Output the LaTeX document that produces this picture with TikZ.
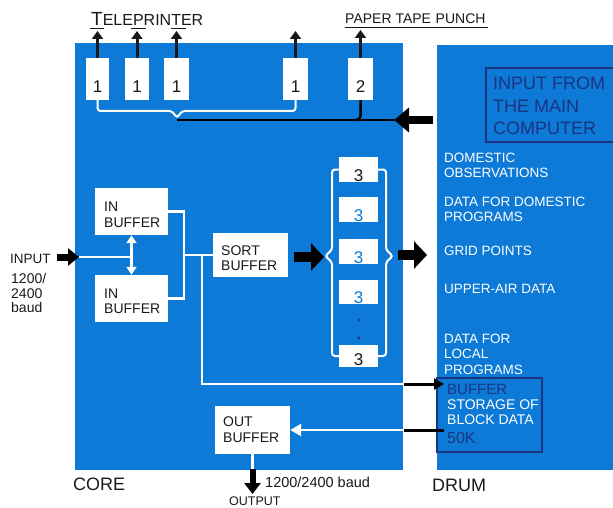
\documentclass[tikz,border=0pt]{standalone}
\usepackage{fontspec}
\setmainfont{Liberation Sans}
\usetikzlibrary{arrows.meta}
\definecolor{bl}{RGB}{12,122,214}
\definecolor{navy}{RGB}{28,52,128}
\definecolor{ink}{RGB}{25,25,25}
\begin{document}
\begin{tikzpicture}[x=1pt,y=-1pt,
  wbox/.style={fill=white,draw=none,inner sep=0pt},
  txt/.style={anchor=base west,inner sep=0pt,text=ink},
  wtxt/.style={anchor=base west,inner sep=0pt,text=white,font=\fontsize{13.5}{15}\selectfont},
  ntxt/.style={anchor=base west,inner sep=0pt,text=navy,font=\fontsize{16}{18}\selectfont},
  btxt/.style={anchor=base west,inner sep=0pt,text=ink,font=\fontsize{14}{16}\selectfont},
  num/.style={anchor=base,inner sep=0pt,font=\fontsize{17}{19}\selectfont},
  wline/.style={draw=white,line width=2.6pt},
  wthin/.style={draw=white,line width=2pt,rounded corners=3pt},
  upar/.style={draw=ink,line width=3pt,-{Triangle[length=8pt,width=11pt]}},
  bigar/.style={draw=black,line width=8pt,-{Triangle[length=15pt,width=24pt]}},
  midar/.style={draw=black,line width=10pt,-{Triangle[length=13pt,width=27pt]}},
  inar/.style={draw=black,line width=7pt,-{Triangle[length=11pt,width=17pt]}},
  outar/.style={draw=black,line width=6pt,-{Triangle[length=11pt,width=16pt]}},
  thinar/.style={draw=black,line width=3pt,-{Triangle[length=10pt,width=11pt]}},
  war/.style={draw=white,line width=2.6pt,-{Triangle[length=11pt,width=12pt]}},
  wdbl/.style={draw=white,line width=2.6pt,{Triangle[length=8pt,width=10pt]}-{Triangle[length=8pt,width=10pt]}}]
\useasboundingbox (0,0) rectangle (613,508);
% core and drum
\fill[bl] (75,43) rectangle (403,470);
\fill[bl] (437,45) rectangle (613,470);

% --- top row of boxes ---
\node[wbox,minimum width=23pt,minimum height=42pt] (b1) at (97.5,79) {};
\node[wbox,minimum width=24pt,minimum height=42pt] (b2) at (137,79) {};
\node[wbox,minimum width=25pt,minimum height=42pt] (b3) at (176.5,79) {};
\node[wbox,minimum width=25pt,minimum height=42pt] (b4) at (295.5,79) {};
\node[wbox,minimum width=25pt,minimum height=42pt] (b5) at (360.5,79) {};
\node[num,text=ink] (n1) at (97.5,93) {1};
\node[num,text=ink] (n2) at (137,93) {1};
\node[num,text=ink] (n3) at (176.5,93) {1};
\node[num,text=ink] (n4) at (295.5,93) {1};
\node[num,text=ink] (n5) at (360.5,93) {2};

\coordinate (t1) at (97.5,31);
\coordinate (t2) at (137,31);
\coordinate (t3) at (176.5,31);
\coordinate (t4) at (295.5,31);
\coordinate (t5) at (360.5,30);
\draw[upar] (b1.north) -- (t1);
\draw[upar] (b2.north) -- (t2);
\draw[upar] (b3.north) -- (t3);
\draw[upar] (b4.north) -- (t4);
\draw[upar] (b5.north) -- (t5);

\node[txt] (tp) at (91,26) {\fontsize{19}{20}\selectfont T\fontsize{16}{18}\selectfont ELEPRINTER};
\draw[ink,line width=1pt] (90,29) -- (104,29);
\draw[ink,line width=1pt] (131,29) -- (146,29);
\draw[ink,line width=1pt] (171,29) -- (186,29);
\node[txt,font=\fontsize{14}{16}\selectfont] (ptp) at (345,24) {PAPER TAPE\,\,PUNCH};
\draw[ink,line width=1pt] (345,28) -- (488,28);

% brace below teleprinter boxes
\coordinate (bt) at (177,118);
\draw[wthin] (b1.south) -- (97.5,111) -- (172,111) -- (bt) -- (182,111) -- (295.5,111) -- (b4.south);
\coordinate (ah) at (394,120);
\draw[black,line width=2.5pt] (177,120) -- (ah);
\draw[black,line width=2.5pt,rounded corners=4pt] (b5.south) -- (360.5,120) -- (355,120);
\coordinate (bigs) at (433,120);
\draw[bigar] (bigs) -- (ah);

% --- drum texts ---
\node[draw=navy,line width=1.6pt,minimum width=128pt,minimum height=74pt,inner sep=0pt] (imc) at (550,105) {};
\node[ntxt,font=\fontsize{18}{20}\selectfont] (imc1) at (493,90) {INPUT FROM};
\node[ntxt,font=\fontsize{18}{20}\selectfont] (imc2) at (493,113) {THE MAIN};
\node[ntxt,font=\fontsize{18}{20}\selectfont] (imc3) at (493,135) {COMPUTER};

\node[wtxt] (d1) at (444,163) {DOMESTIC};
\node[wtxt] (d2) at (444,177) {OBSERVATIONS};
\node[wtxt] (d3) at (444,206) {DATA FOR DOMESTIC};
\node[wtxt] (d4) at (444,221) {PROGRAMS};
\node[wtxt] (d5) at (444,255) {GRID POINTS};
\node[wtxt] (d6) at (444,293) {UPPER-AIR DATA};
\node[wtxt] (d7) at (444,343) {DATA FOR};
\node[wtxt] (d8) at (444,358) {LOCAL};
\node[wtxt] (d9) at (444,374) {PROGRAMS};

\node[draw=navy,line width=1.6pt,minimum width=105pt,minimum height=74pt,inner sep=0pt] (bs) at (489.5,415) {};
\node[ntxt,font=\fontsize{15}{17}\selectfont] (bs1) at (447,394) {BUFFER};
\node[wtxt,font=\fontsize{14}{16}\selectfont] (bs2) at (447,409) {STORAGE OF};
\node[wtxt,font=\fontsize{14}{16}\selectfont] (bs3) at (447,424) {BLOCK DATA};
\node[ntxt] (bs4) at (447,443) {50K};

% --- input side ---
\node[txt,font=\fontsize{13.5}{15}\selectfont] (inl) at (10,263) {INPUT};
\node[txt,font=\fontsize{14}{16}\selectfont] (r1) at (11,283) {1200/};
\node[txt,font=\fontsize{14}{16}\selectfont] (r2) at (11,298) {2400};
\node[txt,font=\fontsize{14}{16}\selectfont] (r3) at (11,312) {baud};
\coordinate (ia1) at (57,257);
\coordinate (ia2) at (79,257);
\draw[inar] (ia1) -- (ia2);

\node[wbox,minimum width=73pt,minimum height=47pt] (ib1) at (131.5,211.5) {};
\node[wbox,minimum width=73pt,minimum height=47pt] (ib2) at (131.5,298.5) {};
\node[btxt] (ib1a) at (104,211) {IN};
\node[btxt] (ib1b) at (104,227) {BUFFER};
\node[btxt] (ib2a) at (104,298) {IN};
\node[btxt] (ib2b) at (104,313) {BUFFER};

\draw[wline] (ia2) -- (ib1.south |- ia2);
\draw[wdbl] (ib1.south) -- (ib2.north);
\draw[wline] (ib1.east) -- (184,211.5) -- (184,298.5) -- (ib2.east);

\node[wbox,minimum width=75pt,minimum height=44pt] (sb) at (250.5,255) {};
\node[btxt] (sb1) at (221,255) {SORT};
\node[btxt] (sb2) at (221,270) {BUFFER};
\draw[wline] (184,255) -- (sb.west);
\coordinate (cr) at (404,384);
\draw[wline] (202,255) -- (202,384) -- (cr);
\coordinate (bsin) at (444,384);
\draw[thinar] (cr) -- (bsin);

% sort -> brace arrow
\coordinate (sa1) at (294,257);
\coordinate (sa2) at (324,257);
\draw[midar] (sa1) -- (sa2);

% column of 3-boxes
\node[wbox,minimum width=39pt,minimum height=25pt] (c1) at (358.5,169.5) {};
\node[wbox,minimum width=39pt,minimum height=25pt] (c2) at (358.5,209.5) {};
\node[wbox,minimum width=39pt,minimum height=25pt] (c3) at (358.5,251.5) {};
\node[wbox,minimum width=39pt,minimum height=24pt] (c4) at (358.5,292) {};
\node[wbox,minimum width=39pt,minimum height=22pt] (c5) at (358.5,356) {};
\node[num,text=ink] (m1) at (358.5,181) {3};
\node[num,text=bl] (m2) at (358.5,221) {3};
\node[num,text=bl] (m3) at (358.5,263) {3};
\node[num,text=bl] (m4) at (358.5,303) {3};
\node[num,text=ink] (m5) at (358.5,365) {3};
\fill[navy] (359,320) circle (1.6pt);
\fill[navy] (359,338) circle (1.6pt);
\draw[wthin] (c1.west) -- (332,169.5) -- (332,250) -- (325,256) -- (332,262) -- (332,356) -- (c5.west);
\draw[wthin] (c1.east) -- (386,169.5) -- (386,250) -- (393,256) -- (386,262) -- (386,356) -- (c5.east);

% brace -> drum arrow
\coordinate (da1) at (398,255);
\coordinate (da2) at (427,255);
\draw[midar] (da1) -- (da2);

% out buffer
\node[wbox,minimum width=75pt,minimum height=48pt] (ob) at (252.5,430) {};
\node[btxt] (ob1) at (223,426) {OUT};
\node[btxt] (ob2) at (223,442) {BUFFER};
\coordinate (ds) at (444,430);
\coordinate (co) at (404,430);
\draw[black,line width=3pt] (ds) -- (co);
\draw[war] (co) -- (ob.east);
\coordinate (ob0) at (252.5,469);
\coordinate (ob3) at (252.5,494);
\draw[wline] (ob.south) -- (ob0);
\draw[outar] (ob0) -- (ob3);

% labels
\node[txt,font=\fontsize{18}{20}\selectfont] (core) at (73,490) {CORE};
\node[txt,font=\fontsize{18}{20}\selectfont] (drum) at (432,491) {DRUM};
\node[txt,font=\fontsize{14.5}{16}\selectfont] (ob4) at (265,487) {1200/2400 baud};
\node[txt,font=\fontsize{12.5}{14}\selectfont] (outp) at (229,505.5) {OUTPUT};
\end{tikzpicture}
\end{document}
